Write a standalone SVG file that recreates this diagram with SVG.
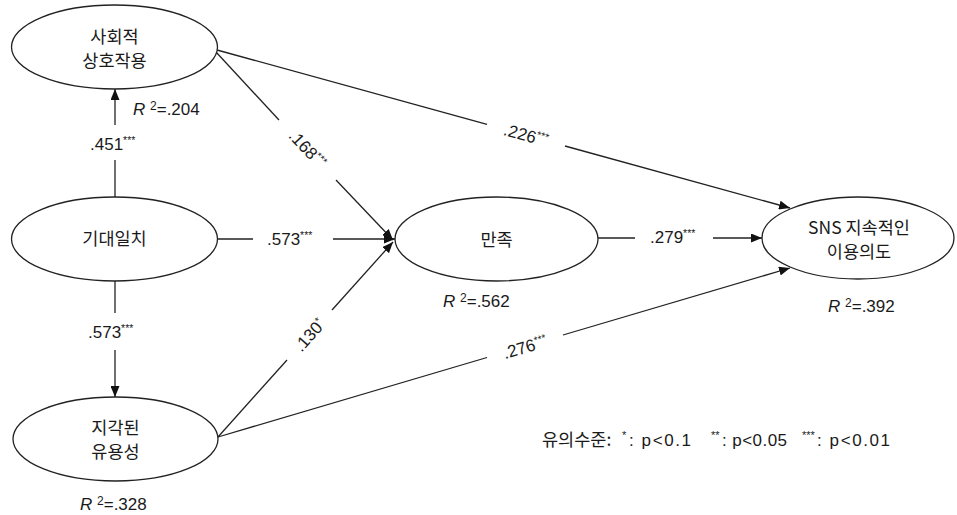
<svg xmlns="http://www.w3.org/2000/svg" width="957" height="515" viewBox="0 0 957 515">
<style>
.node{fill:#fff;stroke:#222;stroke-width:1.3}
.t{font-family:"Noto Sans CJK KR","Liberation Sans",sans-serif;font-size:17.5px;fill:#1a1a1a;text-anchor:middle}
.l{font-family:"Liberation Sans","Noto Sans CJK KR",sans-serif;font-size:17px;fill:#1a1a1a}
.g{font-family:"Liberation Sans","Noto Sans CJK KR",sans-serif;font-size:17px;fill:#1a1a1a}
.c{text-anchor:middle}
.s{font-size:10.5px}
.i{font-style:italic}
.e{stroke:#222;stroke-width:1.3;fill:none}
</style>
<defs>
<marker id="ah" markerUnits="userSpaceOnUse" markerWidth="11" markerHeight="9" refX="11" refY="4.5" orient="auto">
<path d="M0,0 L11,4.5 L0,9 z" fill="#111"/>
</marker>
</defs>
<rect width="957" height="515" fill="#fff"/>
<g id="connectors">
<line class="e" x1="115" y1="198" x2="115" y2="160"/>
<line class="e" x1="115" y1="125" x2="115" y2="89" marker-end="url(#ah)"/>
<line class="e" x1="115" y1="281" x2="115" y2="313"/>
<line class="e" x1="115" y1="350" x2="115" y2="397" marker-end="url(#ah)"/>
<line class="e" x1="218" y1="239" x2="253" y2="239"/>
<line class="e" x1="333" y1="239" x2="395" y2="239" marker-end="url(#ah)"/>
<line class="e" x1="216" y1="52" x2="279" y2="120"/>
<line class="e" x1="336" y1="180" x2="393" y2="240" marker-end="url(#ah)"/>
<line class="e" x1="218" y1="437" x2="287" y2="360"/>
<line class="e" x1="332" y1="310" x2="393" y2="242" marker-end="url(#ah)"/>
<line class="e" x1="217" y1="50" x2="487" y2="124.4"/>
<line class="e" x1="565" y1="146" x2="790" y2="208" marker-end="url(#ah)"/>
<line class="e" x1="218" y1="437" x2="487" y2="357.5"/>
<line class="e" x1="563" y1="335" x2="790" y2="268" marker-end="url(#ah)"/>
<line class="e" x1="598" y1="238" x2="635" y2="238"/>
<line class="e" x1="713" y1="238" x2="762" y2="238" marker-end="url(#ah)"/>
</g>
<g id="labels">
<text class="l" x="90" y="150">.451<tspan class="s" dy="-6">***</tspan></text>
<text class="l" x="88" y="338">.573<tspan class="s" dy="-6">***</tspan></text>
<text class="l" x="267" y="245">.573<tspan class="s" dy="-6">***</tspan></text>
<text class="l" x="650" y="243">.279<tspan class="s" dy="-6">***</tspan></text>
<text class="l c" transform="translate(307.5,149) rotate(46.9)" y="6">.168<tspan class="s" dy="-6">***</tspan></text>
<text class="l c" transform="translate(526,135) rotate(15.4)" y="6">.226<tspan class="s" dy="-6">***</tspan></text>
<text class="l c" transform="translate(309.5,335) rotate(-48.1)" y="6">.130<tspan class="s" dy="-6">*</tspan></text>
<text class="l c" transform="translate(525,347) rotate(-16.5)" y="6">.276<tspan class="s" dy="-6">***</tspan></text>
<text class="l" x="133" y="115"><tspan class="i">R</tspan> <tspan style="font-size:12px" dy="-5">2</tspan><tspan dy="5">=.204</tspan></text>
<text class="l" x="443" y="307"><tspan class="i">R</tspan> <tspan style="font-size:12px" dy="-5">2</tspan><tspan dy="5">=.562</tspan></text>
<text class="l" x="828" y="312"><tspan class="i">R</tspan> <tspan style="font-size:12px" dy="-5">2</tspan><tspan dy="5">=.392</tspan></text>
<text class="l" x="80" y="510"><tspan class="i">R</tspan> <tspan style="font-size:12px" dy="-5">2</tspan><tspan dy="5">=.328</tspan></text>
</g>
<g id="node-social">
<ellipse class="node" cx="114.5" cy="47" rx="103" ry="42"/>
<text class="t" x="114.5" y="43">사회적</text>
<text class="t" x="114.5" y="67">상호작용</text>
</g>
<g id="node-expect">
<ellipse class="node" cx="114.5" cy="239" rx="103" ry="42"/>
<text class="t" x="114.5" y="245">기대일치</text>
</g>
<g id="node-useful">
<ellipse class="node" cx="115.5" cy="439" rx="102.5" ry="42"/>
<text class="t" x="115.5" y="434">지각된</text>
<text class="t" x="115.5" y="458">유용성</text>
</g>
<g id="node-satisfy">
<ellipse class="node" cx="496.5" cy="239" rx="101.5" ry="42"/>
<text class="t" x="496.5" y="246">만족</text>
</g>
<g id="node-sns">
<ellipse class="node" cx="858" cy="238" rx="96" ry="41"/>
<text class="t" x="859" y="234">SNS 지속적인</text>
<text class="t" x="859" y="258">이용의도</text>
</g>
<g id="legend">
<text class="t" style="text-anchor:start" x="542" y="446">유의수준:</text>
<text class="g" x="622" y="439" style="font-size:11px">*</text>
<text class="g" x="629" y="446" textLength="62">: p&lt;0.1</text>
<text class="g" x="711" y="439" style="font-size:11px">**</text>
<text class="g" x="722" y="446" textLength="65">: p&lt;0.05</text>
<text class="g" x="802" y="439" style="font-size:11px">***</text>
<text class="g" x="817" y="446" textLength="73">: p&lt;0.01</text>
</g>
</svg>
